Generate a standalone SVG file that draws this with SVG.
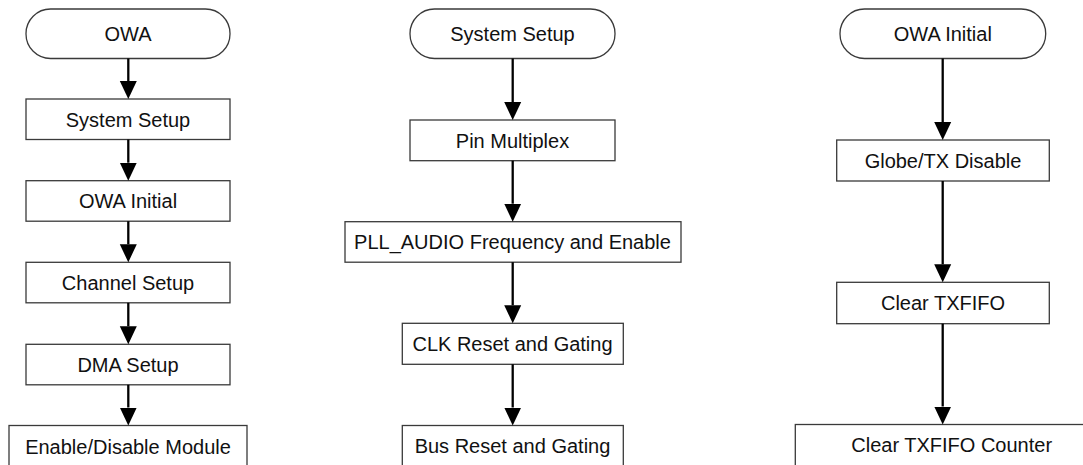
<svg xmlns="http://www.w3.org/2000/svg" width="1083" height="465" viewBox="0 0 1083 465">
  <style>
    .box { fill: #ffffff; stroke: #3a3a3a; stroke-width: 1.3; }
    .lbl { font-family: "Liberation Sans", Arial, sans-serif; font-size: 20px; fill: #111111; text-anchor: middle; }
    .conn { stroke: #000000; stroke-width: 2.3; fill: none; marker-end: url(#arrow); }
  </style>
  <defs>
    <marker id="arrow" markerUnits="userSpaceOnUse" markerWidth="18" markerHeight="18" refX="0" refY="9" orient="auto" viewBox="0 0 18 18">
      <path d="M0,0.5 L18,9 L0,17.5 Z" fill="#000000"/>
    </marker>
  </defs>
  <rect width="1083" height="465" fill="#ffffff"/>

  <!-- Left column -->
  <g id="n-owa">
    <rect class="box" x="26" y="9" width="204" height="49.5" rx="24.5" ry="24.5"/>
    <text class="lbl" x="128" y="40.5">OWA</text>
  </g>
  <g id="n-l-system-setup">
    <rect class="box" x="26" y="99" width="204" height="40.5"/>
    <text class="lbl" x="128" y="126.5">System Setup</text>
  </g>
  <g id="n-l-owa-initial">
    <rect class="box" x="26" y="180.7" width="204" height="40.5"/>
    <text class="lbl" x="128" y="208.2">OWA Initial</text>
  </g>
  <g id="n-channel-setup">
    <rect class="box" x="26" y="262.3" width="204" height="40.5"/>
    <text class="lbl" x="128" y="289.8">Channel Setup</text>
  </g>
  <g id="n-dma-setup">
    <rect class="box" x="26" y="344.3" width="204" height="40.5"/>
    <text class="lbl" x="128" y="371.8">DMA Setup</text>
  </g>
  <g id="n-enable-disable">
    <rect class="box" x="9" y="425.5" width="238" height="42"/>
    <text class="lbl" x="128" y="454">Enable/Disable Module</text>
  </g>

  <!-- Middle column -->
  <g id="n-m-system-setup">
    <rect class="box" x="410" y="9" width="205" height="49.5" rx="24.5" ry="24.5"/>
    <text class="lbl" x="512.5" y="40.5">System Setup</text>
  </g>
  <g id="n-pin-multiplex">
    <rect class="box" x="410" y="120" width="205" height="40.7"/>
    <text class="lbl" x="512.5" y="147.5">Pin Multiplex</text>
  </g>
  <g id="n-pll-audio">
    <rect class="box" x="345" y="221.7" width="336" height="40.5"/>
    <text class="lbl" x="512.5" y="249.2">PLL_AUDIO Frequency and Enable</text>
  </g>
  <g id="n-clk-reset">
    <rect class="box" x="402.3" y="323.3" width="221" height="41"/>
    <text class="lbl" x="512.5" y="351">CLK Reset and Gating</text>
  </g>
  <g id="n-bus-reset">
    <rect class="box" x="402.3" y="425.5" width="221" height="42"/>
    <text class="lbl" x="512.5" y="453">Bus Reset and Gating</text>
  </g>

  <!-- Right column -->
  <g id="n-r-owa-initial">
    <rect class="box" x="840" y="9" width="205.7" height="49.5" rx="24.5" ry="24.5"/>
    <text class="lbl" x="942.8" y="40.5">OWA Initial</text>
  </g>
  <g id="n-globe-tx-disable">
    <rect class="box" x="836.7" y="140" width="212.6" height="41"/>
    <text class="lbl" x="943" y="167.8">Globe/TX Disable</text>
  </g>
  <g id="n-clear-txfifo">
    <rect class="box" x="836.7" y="282.3" width="212.6" height="41.4"/>
    <text class="lbl" x="943" y="310">Clear TXFIFO</text>
  </g>
  <g id="n-clear-txfifo-counter">
    <rect class="box" x="795.3" y="424.5" width="313" height="43"/>
    <text class="lbl" x="951.7" y="452">Clear TXFIFO Counter</text>
  </g>

  <!-- Connectors -->
  <g id="connectors">
    <line class="conn" x1="128.3" y1="58.5" x2="128.3" y2="81"/>
    <line class="conn" x1="128.3" y1="139.5" x2="128.3" y2="162.7"/>
    <line class="conn" x1="128.3" y1="221.2" x2="128.3" y2="244.3"/>
    <line class="conn" x1="128.3" y1="302.8" x2="128.3" y2="326.3"/>
    <line class="conn" x1="128.3" y1="384.8" x2="128.3" y2="407.5"/>

    <line class="conn" x1="512.7" y1="58.5" x2="512.7" y2="102"/>
    <line class="conn" x1="512.7" y1="160.7" x2="512.7" y2="203.7"/>
    <line class="conn" x1="512.7" y1="262.2" x2="512.7" y2="305.3"/>
    <line class="conn" x1="512.7" y1="364.3" x2="512.7" y2="407.5"/>

    <line class="conn" x1="942.7" y1="58.5" x2="942.7" y2="122"/>
    <line class="conn" x1="942.7" y1="181" x2="942.7" y2="264.3"/>
    <line class="conn" x1="942.7" y1="323.7" x2="942.7" y2="406.5"/>
  </g>
</svg>
